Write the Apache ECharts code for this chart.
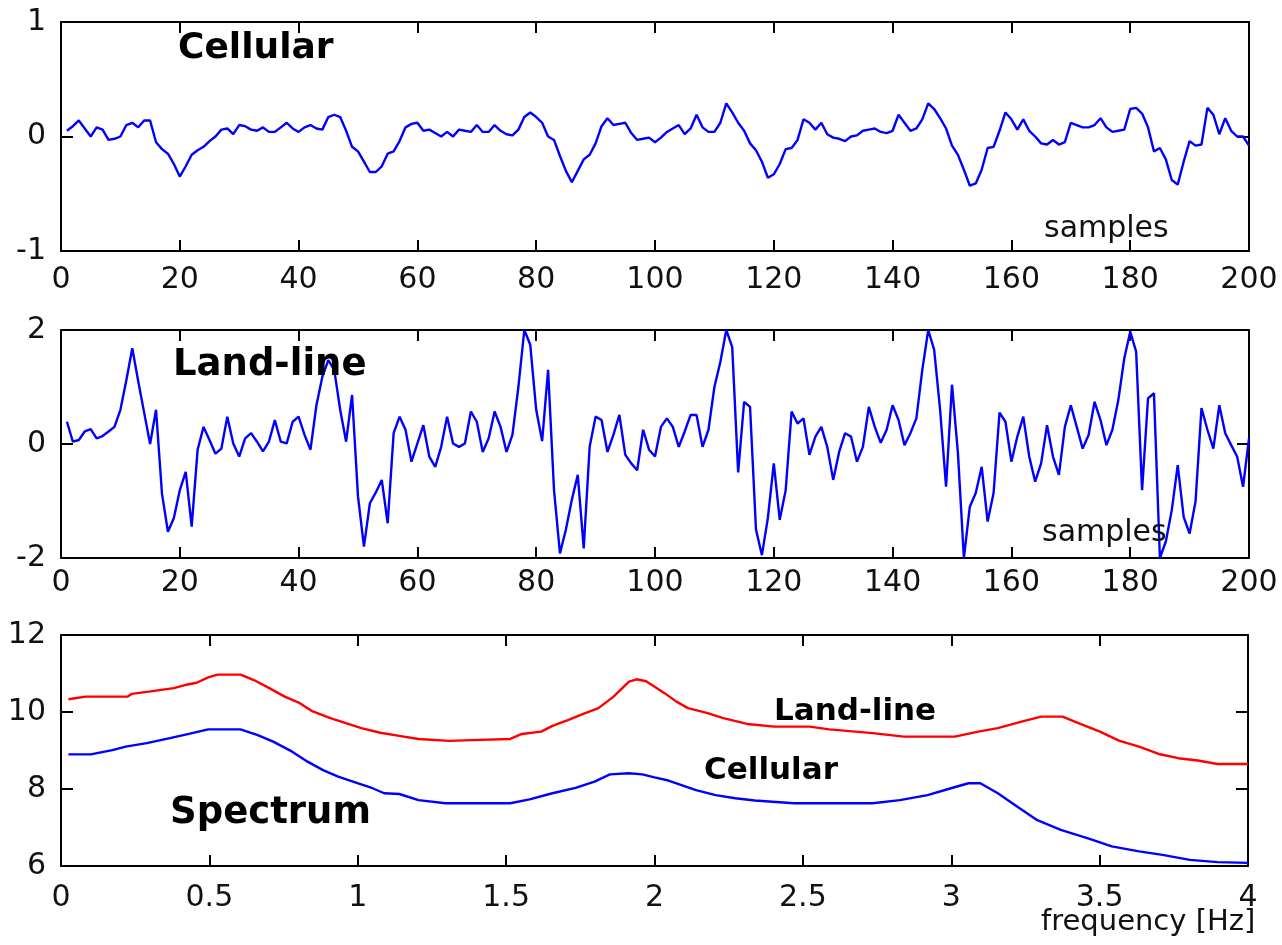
<!DOCTYPE html>
<html>
<head>
<meta charset="utf-8">
<script src="https://cdn.jsdelivr.net/npm/echarts@6/dist/echarts.min.js"></script>
<style>html,body{margin:0;padding:0;background:#fff}#c{width:1282px;height:945px}</style>
</head>
<body>
<div id="c"></div>
<script>
// ---- data ----
const cellular = [
 0.05,0.09,0.14,0.07,0.0,0.08,0.06,-0.03,-0.02,0.0,
 0.1,0.12,0.08,0.14,0.14,-0.05,-0.11,-0.15,-0.24,-0.35,
 -0.26,-0.16,-0.12,-0.09,-0.04,0.0,0.06,0.07,0.02,0.1,
 0.09,0.06,0.05,0.08,0.04,0.04,0.08,0.12,0.07,0.04,
 0.08,0.1,0.07,0.06,0.17,0.19,0.17,0.05,-0.09,-0.13,
 -0.22,-0.31,-0.31,-0.26,-0.15,-0.13,-0.04,0.08,0.11,0.12,
 0.05,0.06,0.03,0.0,0.04,0.0,0.06,0.05,0.04,0.1,
 0.04,0.04,0.1,0.05,0.02,0.01,0.06,0.17,0.21,0.17,
 0.12,0.0,-0.03,-0.17,-0.3,-0.4,-0.3,-0.2,-0.16,-0.06,
 0.09,0.16,0.1,0.11,0.12,0.03,-0.03,-0.02,-0.01,-0.05,
 -0.01,0.04,0.07,0.1,0.02,0.07,0.19,0.08,0.04,0.04,
 0.12,0.29,0.21,0.12,0.05,-0.06,-0.12,-0.22,-0.36,-0.33,
 -0.24,-0.11,-0.1,-0.03,0.15,0.12,0.06,0.12,0.02,-0.01,
 -0.02,-0.04,0.0,0.01,0.05,0.06,0.07,0.04,0.03,0.05,
 0.19,0.12,0.05,0.07,0.15,0.29,0.24,0.16,0.07,-0.08,
 -0.16,-0.29,-0.43,-0.41,-0.29,-0.1,-0.09,0.05,0.21,0.15,
 0.06,0.15,0.05,0.0,-0.06,-0.07,-0.03,-0.07,-0.05,0.12,
 0.1,0.08,0.08,0.1,0.16,0.08,0.04,0.05,0.06,0.24,
 0.25,0.2,0.08,-0.13,-0.1,-0.2,-0.38,-0.42,-0.22,-0.04,
 -0.08,-0.07,0.25,0.19,0.02,0.16,0.05,0.0,0.0,-0.08
];
const landline = [
 0.39,0.04,0.07,0.22,0.26,0.1,0.14,0.22,0.3,0.6,
 1.12,1.68,1.1,0.55,0.0,0.6,-0.87,-1.54,-1.3,-0.81,
 -0.49,-1.45,-0.1,0.3,0.07,-0.17,-0.08,0.48,0.01,-0.22,
 0.1,0.19,0.04,-0.13,0.04,0.42,0.04,0.01,0.39,0.48,
 0.16,-0.1,0.68,1.18,1.47,1.3,0.6,0.04,0.86,-0.92,
 -1.8,-1.04,-0.85,-0.63,-1.39,0.19,0.48,0.25,-0.31,0.01,
 0.33,-0.22,-0.4,-0.05,0.48,0.01,-0.05,0.01,0.57,0.39,
 -0.14,0.1,0.57,0.3,-0.14,0.16,1.0,2.0,1.74,0.6,
 0.05,1.3,-0.81,-1.92,-1.5,-0.98,-0.54,-1.83,-0.05,0.48,
 0.42,-0.14,0.16,0.51,-0.19,-0.34,-0.46,0.25,-0.1,-0.22,
 0.3,0.45,0.3,-0.05,0.22,0.51,0.51,-0.05,0.25,1.0,
 1.44,2.0,1.7,-0.5,0.74,0.65,-1.5,-1.95,-1.3,-0.34,
 -1.33,-0.81,0.57,0.36,0.45,-0.19,0.13,0.3,-0.05,-0.63,
 -0.14,0.19,0.13,-0.31,-0.05,0.65,0.3,0.02,0.25,0.68,
 0.42,-0.02,0.19,0.45,1.3,2.0,1.65,0.6,-0.75,1.04,
 -0.16,-2.0,-1.1,-0.86,-0.4,-1.36,-0.86,0.55,0.39,-0.31,
 0.13,0.48,-0.22,-0.66,-0.34,0.33,-0.22,-0.54,0.3,0.68,
 0.3,-0.08,0.16,0.74,0.42,-0.02,0.25,0.77,1.5,1.97,
 1.62,-0.81,0.8,0.89,-2.0,-1.71,-1.16,-0.37,-1.28,-1.57,
 -1.01,0.63,0.25,-0.08,0.68,0.19,-0.02,-0.22,-0.75,0.1
];
const landFreq = [0.025,0.083,0.225,0.238,0.296,0.38,0.418,0.457,0.496,0.528,0.605,0.65,0.702,0.754,0.805,0.844,0.908,0.96,1.012,1.076,1.14,1.205,1.308,1.385,1.514,1.553,1.618,1.656,1.708,1.76,1.811,1.862,1.914,1.94,1.972,2.034,2.074,2.113,2.179,2.232,2.312,2.404,2.523,2.589,2.735,2.84,3.012,3.091,3.157,3.237,3.303,3.375,3.435,3.501,3.567,3.633,3.699,3.765,3.831,3.897,4.0];
const landSpec = [10.33,10.4,10.4,10.47,10.53,10.62,10.7,10.76,10.9,10.97,10.97,10.83,10.62,10.4,10.23,10.03,9.84,9.71,9.58,9.46,9.38,9.3,9.25,9.27,9.3,9.43,9.49,9.64,9.79,9.95,10.1,10.4,10.79,10.85,10.8,10.49,10.27,10.1,9.97,9.84,9.69,9.62,9.62,9.55,9.45,9.36,9.36,9.49,9.58,9.75,9.88,9.88,9.69,9.49,9.25,9.1,8.91,8.8,8.74,8.65,8.65];
const cellFreq = [0.025,0.1,0.173,0.218,0.289,0.367,0.431,0.496,0.605,0.663,0.715,0.779,0.831,0.883,0.934,0.999,1.05,1.089,1.14,1.205,1.295,1.514,1.579,1.656,1.734,1.798,1.85,1.914,1.959,2.0,2.047,2.14,2.206,2.272,2.338,2.47,2.735,2.827,2.92,2.999,3.058,3.098,3.157,3.223,3.29,3.369,3.461,3.541,3.633,3.712,3.804,3.897,4.0];
const cellSpec = [8.9,8.9,9.01,9.1,9.19,9.32,9.43,9.55,9.55,9.4,9.23,8.97,8.71,8.49,8.32,8.15,8.02,7.89,7.87,7.71,7.63,7.63,7.73,7.89,8.03,8.19,8.38,8.41,8.38,8.3,8.22,7.97,7.84,7.76,7.7,7.63,7.63,7.71,7.84,8.02,8.15,8.15,7.89,7.54,7.19,6.94,6.72,6.51,6.38,6.29,6.16,6.1,6.08];
const sampleTicks = {min:0, max:200, interval:20};
const freqTicks = {min:0, max:4, interval:0.5};
const cellTicks = {min:-1, max:1, interval:1};
const landTicks = {min:-2, max:2, interval:2};
const specTicks = {min:6, max:12, interval:2};

// ---- chart ----
const FONT = 'DejaVu Sans';
const lineSt = {color:'#000', width:2};
function xPair(g, t, margin){
  return [
    {type:'value', gridIndex:g, position:'bottom', min:t.min, max:t.max, interval:t.interval,
     axisLine:{show:true, onZero:false, lineStyle:lineSt},
     axisTick:{show:true, inside:true, length:11, lineStyle:lineSt},
     axisLabel:{show:true, margin:margin, color:'#111', fontFamily:FONT, fontSize:30, showMinLabel:true, showMaxLabel:true},
     splitLine:{show:false}},
    {type:'value', gridIndex:g, position:'top', min:t.min, max:t.max, interval:t.interval,
     axisLine:{show:true, onZero:false, lineStyle:lineSt},
     axisTick:{show:true, inside:true, length:11, lineStyle:lineSt},
     axisLabel:{show:false}, splitLine:{show:false}}
  ];
}
function yPair(g, t){
  return [
    {type:'value', gridIndex:g, position:'left', min:t.min, max:t.max, interval:t.interval,
     axisLine:{show:true, onZero:false, lineStyle:lineSt},
     axisTick:{show:true, inside:true, length:12, lineStyle:lineSt},
     axisLabel:{show:true, margin:15, color:'#111', fontFamily:FONT, fontSize:30, showMinLabel:true, showMaxLabel:true},
     splitLine:{show:false}},
    {type:'value', gridIndex:g, position:'right', min:t.min, max:t.max, interval:t.interval,
     axisLine:{show:true, onZero:false, lineStyle:lineSt},
     axisTick:{show:true, inside:true, length:12, lineStyle:lineSt},
     axisLabel:{show:false}, splitLine:{show:false}}
  ];
}
const toPairs = arr => arr.map((v,k)=>[k+1, v]);
const zip = (xs, ys) => xs.map((x,k)=>[x, ys[k]]);

const chart = echarts.init(document.getElementById('c'), null, {renderer:'canvas'});
const LW = 2.4;

chart.setOption({
  backgroundColor:'#fff',
  animation:false,
  grid:[
    {left:61, top:22, width:1188, height:229},
    {left:61, top:330, width:1188, height:228},
    {left:61, top:635, width:1187, height:231}
  ],
  xAxis:[].concat(xPair(0, sampleTicks, 14), xPair(1, sampleTicks, 10), xPair(2, freqTicks, 17)),
  yAxis:[].concat(yPair(0, cellTicks), yPair(1, landTicks), yPair(2, specTicks)),
  series:[
    {type:'line', xAxisIndex:0, yAxisIndex:0, data:toPairs(cellular), showSymbol:false, symbol:'none',
     lineStyle:{color:'#0000ff', width:LW}, clip:true},
    {type:'line', xAxisIndex:2, yAxisIndex:2, data:toPairs(landline), showSymbol:false, symbol:'none',
     lineStyle:{color:'#0000ff', width:LW}, clip:true},
    {type:'line', xAxisIndex:4, yAxisIndex:4, data:zip(landFreq, landSpec), showSymbol:false, symbol:'none',
     lineStyle:{color:'#ff0000', width:LW}, clip:true},
    {type:'line', xAxisIndex:4, yAxisIndex:4, data:zip(cellFreq, cellSpec), showSymbol:false, symbol:'none',
     lineStyle:{color:'#0000ff', width:LW}, clip:true}
  ],
  graphic:[
    {type:'text', x:178, y:49, z:10, style:{text:'Cellular', font:'bold 36px "DejaVu Sans"', fill:'#000', verticalAlign:'middle'}},
    {type:'text', x:173, y:365, z:10, style:{text:'Land-line', font:'bold 37px "DejaVu Sans"', fill:'#000', verticalAlign:'middle'}},
    {type:'text', x:170, y:813, z:10, style:{text:'Spectrum', font:'bold 37px "DejaVu Sans"', fill:'#000', verticalAlign:'middle'}},
    {type:'text', x:774, y:712, z:10, style:{text:'Land-line', font:'bold 31px "DejaVu Sans"', fill:'#000', verticalAlign:'middle'}},
    {type:'text', x:704, y:771, z:10, style:{text:'Cellular', font:'bold 31px "DejaVu Sans"', fill:'#000', verticalAlign:'middle'}},
    {type:'text', x:1044, y:229, z:10, style:{text:'samples', font:'30px "DejaVu Sans"', fill:'#111', verticalAlign:'middle'}},
    {type:'text', x:1042, y:533, z:10, style:{text:'samples', font:'30px "DejaVu Sans"', fill:'#111', verticalAlign:'middle'}},
    {type:'text', x:1041, y:922, z:10, style:{text:'frequency [Hz]', font:'29px "DejaVu Sans"', fill:'#111', verticalAlign:'middle'}}
  ]
});
</script>
</body>
</html>
